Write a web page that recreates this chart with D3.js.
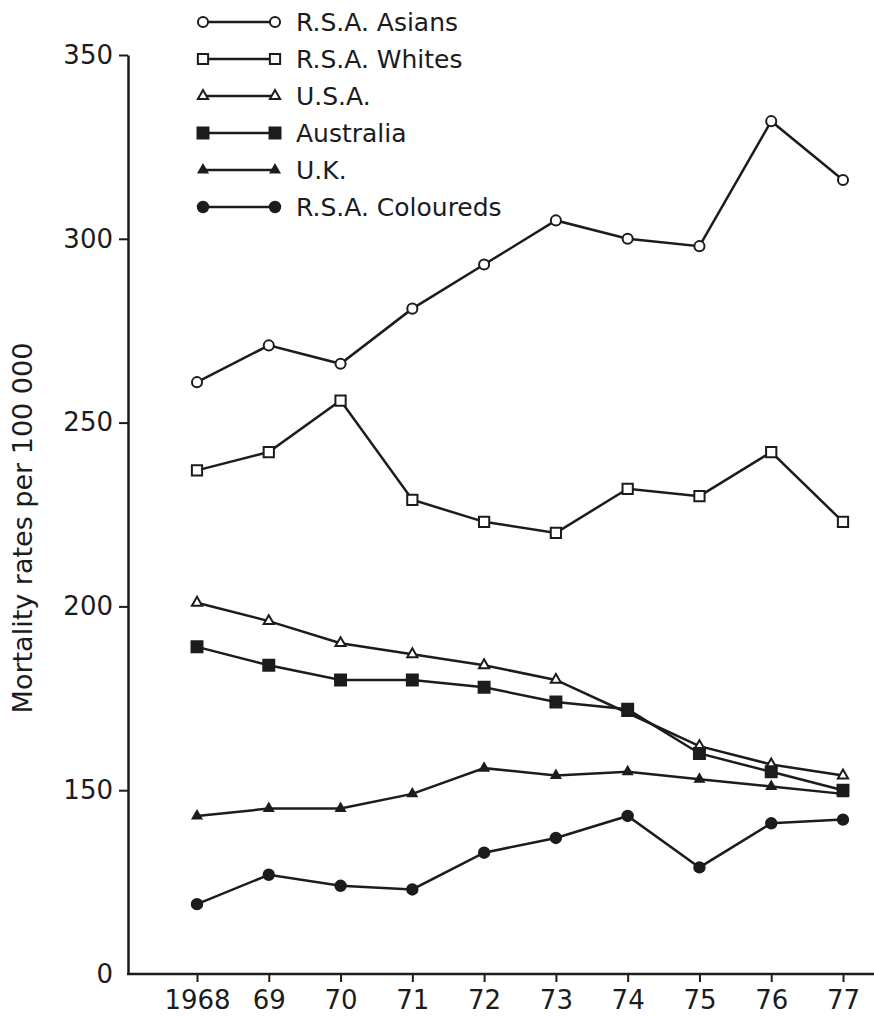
<!DOCTYPE html>
<html>
<head>
<meta charset="utf-8">
<script src="https://cdn.jsdelivr.net/npm/d3@7"></script>
<style>
    body { margin: 0; background: #fff; }
    text { font-family: "DejaVu Sans", sans-serif; fill: #1c1c1c; }
</style>
</head>
<body>
<div id="chart"></div>
<script>
// data
const years = [1968, 1969, 1970, 1971, 1972, 1973, 1974, 1975, 1976, 1977];
const yearLabels = ["1968", "69", "70", "71", "72", "73", "74", "75", "76", "77"];

const asians = [261, 271, 266, 281, 293, 305, 300, 298, 332, 316];
const whites = [237, 242, 256, 229, 223, 220, 232, 230, 242, 223];
const usa = [201, 196, 190, 187, 184, 180, 171, 162, 157, 154];
const australia = [189, 184, 180, 180, 178, 174, 172, 160, 155, 150];
const uk = [143, 145, 145, 149, 156, 154, 155, 153, 151, 149];
const coloureds = [119, 127, 124, 123, 133, 137, 143, 129, 141, 142];

const seriesNames = ["R.S.A. Asians", "R.S.A. Whites", "U.S.A.", "Australia", "U.K.", "R.S.A. Coloureds"];

// broken axis: bottom of the scale is marked 0
const yTickValues = [100, 150, 200, 250, 300, 350];
const yTickLabels = ["0", "150", "200", "250", "300", "350"];

function draw() {
    const width = 874;
    const height = 1018;
    const ink = "#1c1c1c";

    const svg = d3.select("#chart")
        .append("svg")
        .attr("width", width)
        .attr("height", height);

    svg.append("rect")
        .attr("width", width)
        .attr("height", height)
        .attr("fill", "#fff");

    const x = d3.scaleLinear()
        .domain([1968, 1977])
        .range([197, 843]);

    const y = d3.scaleLinear()
        .domain([100, 350])
        .range([974, 55]);

    // marker for each series: shape, size, filled or not
    const styles = [
        { shape: d3.symbolCircle, size: 80, filled: false },
        { shape: d3.symbolSquare, size: 105, filled: false },
        { shape: d3.symbolTriangle, size: 45, filled: false },
        { shape: d3.symbolSquare, size: 120, filled: true },
        { shape: d3.symbolTriangle, size: 32, filled: true },
        { shape: d3.symbolCircle, size: 85, filled: true }
    ];
    const allSeries = [asians, whites, usa, australia, uk, coloureds];

    const line = d3.line()
        .x((d, i) => x(years[i]))
        .y(d => y(d));

    // axes
    const yAxis = d3.axisLeft(y)
        .tickValues(yTickValues)
        .tickFormat((d, i) => yTickLabels[i])
        .tickSize(9)
        .tickSizeOuter(0)
        .tickPadding(6);

    const gy = svg.append("g")
        .attr("transform", "translate(128,0)")
        .call(yAxis);
    gy.select(".domain").attr("stroke", ink).attr("stroke-width", 2.5);
    gy.selectAll(".tick line").attr("stroke", ink).attr("stroke-width", 2);
    gy.selectAll(".tick").filter(d => d === 100).select("line").remove();
    gy.selectAll(".tick text")
        .attr("font-size", "26px")
        .attr("font-family", "DejaVu Sans")
        .attr("fill", ink);

    const xAxis = d3.axisBottom(x)
        .tickValues(years)
        .tickFormat((d, i) => yearLabels[i])
        .tickSize(8)
        .tickSizeOuter(0)
        .tickPadding(9);

    const gx = svg.append("g")
        .attr("transform", "translate(0,974)")
        .call(xAxis);
    gx.select(".domain").remove();
    gx.append("line")
        .attr("x1", 127)
        .attr("x2", width)
        .attr("stroke", ink)
        .attr("stroke-width", 2.5);
    gx.selectAll(".tick line").attr("stroke", ink).attr("stroke-width", 2);
    gx.selectAll(".tick text")
        .attr("font-size", "26px")
        .attr("font-family", "DejaVu Sans")
        .attr("fill", ink);

    svg.append("text")
        .attr("transform", "translate(32,528) rotate(-90)")
        .attr("text-anchor", "middle")
        .style("font-size", "27px")
        .text("Mortality rates per 100 000");

    // lines and markers
    allSeries.forEach(function (values, k) {
        const st = styles[k];

        svg.append("path")
            .datum(values)
            .attr("fill", "none")
            .attr("stroke", ink)
            .attr("stroke-width", 2.5)
            .attr("d", line);

        svg.append("g")
            .selectAll("path")
            .data(values)
            .join("path")
            .attr("transform", (d, i) => "translate(" + x(years[i]) + "," + y(d) + ")")
            .attr("d", d3.symbol().type(st.shape).size(st.size))
            .attr("fill", st.filled ? ink : "#fff")
            .attr("stroke", ink)
            .attr("stroke-width", 2);
    });

    // legend
    const legend = svg.append("g");
    seriesNames.forEach(function (name, k) {
        const st = styles[k];
        const ly = 22 + k * 37;

        legend.append("line")
            .attr("x1", 203)
            .attr("x2", 275)
            .attr("y1", ly)
            .attr("y2", ly)
            .attr("stroke", ink)
            .attr("stroke-width", 2.5);

        legend.selectAll(null)
            .data([203, 275])
            .join("path")
            .attr("transform", d => "translate(" + d + "," + ly + ")")
            .attr("d", d3.symbol().type(st.shape).size(st.size))
            .attr("fill", st.filled ? ink : "#fff")
            .attr("stroke", ink)
            .attr("stroke-width", 2);

        legend.append("text")
            .attr("x", 296)
            .attr("y", ly)
            .attr("dy", "0.35em")
            .style("font-size", "25px")
            .text(name);
    });
}

draw();
</script>
</body>
</html>
